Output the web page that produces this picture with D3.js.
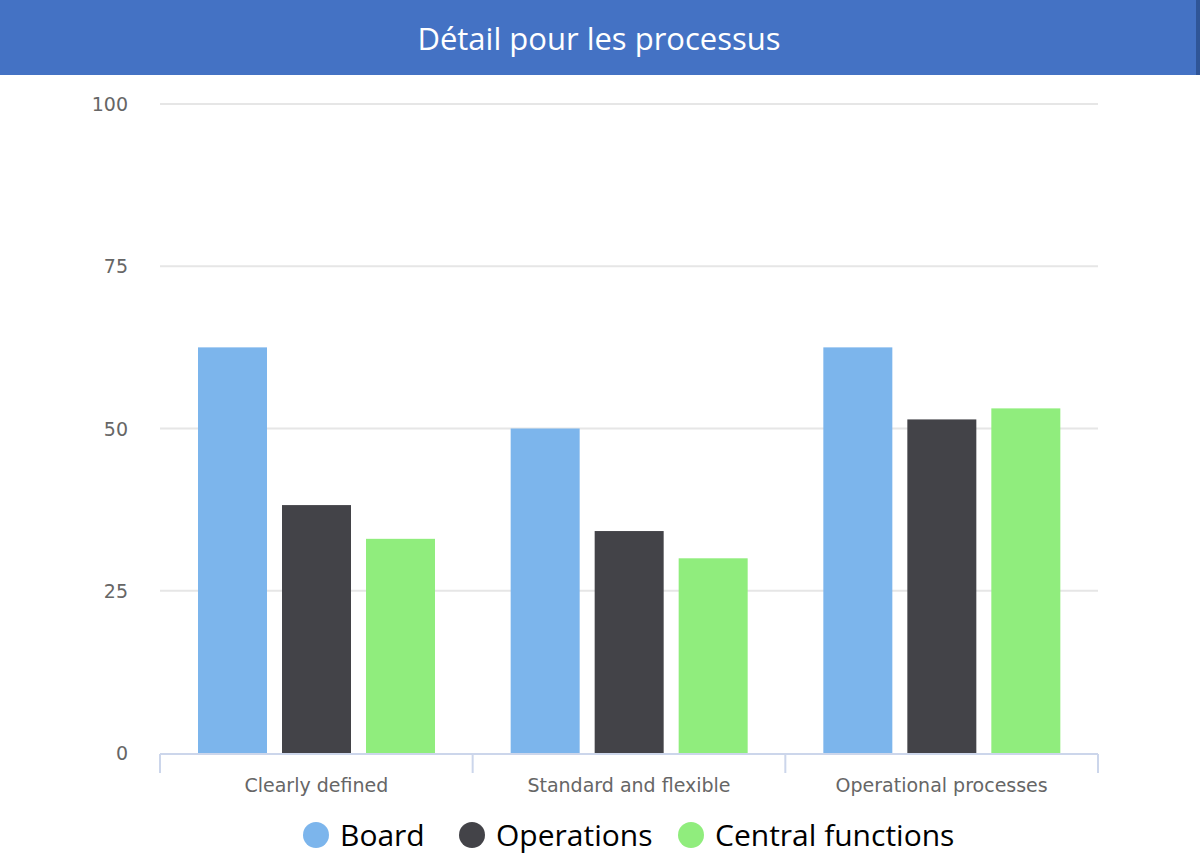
<!DOCTYPE html><html><head><meta charset="utf-8">
<script src="https://cdn.jsdelivr.net/npm/d3@7"></script>
<style>body{margin:0;background:#fff}</style></head><body>
<svg id="c" width="1200" height="854"></svg>
<script>
const categories=["Clearly defined","Standard and flexible","Operational processes"];
const seriesNames=["Board","Operations","Central functions"];
const board=[62.5,50,62.5];
const operations=[38.2,34.2,51.4];
const central=[33,30,53.1];
const colors=["#7cb5ec","#434348","#90ed7d"];
const yTicks=[0,25,50,75,100];
const series=[board,operations,central];
const svg=d3.select("#c");
svg.append("rect").attr("x",0).attr("y",0).attr("width",1198).attr("height",75).attr("fill","#4472c4");
svg.append("rect").attr("x",1196).attr("y",0).attr("width",4).attr("height",75).attr("fill","#2f5597");
svg.append("text").attr("x",599).attr("y",50).attr("text-anchor","middle").attr("fill","#fff")
 .attr("font-family","Open Sans, sans-serif").attr("font-size",31).text("Détail pour les processus");
const x=d3.scaleBand().domain(categories).range([160,1098]);
const inner=d3.scaleBand().domain(seriesNames).range([38,38+84*3-15]).paddingInner(15/84);
const y=d3.scaleLinear().domain([0,100]).range([753,104]);
const g=svg.append("g");
yTicks.forEach(t=>{
 if(t>0) g.append("line").attr("x1",160).attr("x2",1098).attr("y1",y(t)).attr("y2",y(t)).attr("stroke","#e6e6e6").attr("stroke-width",2);
 g.append("text").attr("x",128).attr("y",y(t)+7).attr("text-anchor","end").attr("fill","#666")
  .attr("font-family","DejaVu Sans, sans-serif").attr("font-size",19).text(t);
});
categories.forEach((c,i)=>{
 series.forEach((s,j)=>{
  g.append("rect").attr("x",x(c)+inner(seriesNames[j])).attr("width",inner.bandwidth())
   .attr("y",y(s[i])).attr("height",y(0)-y(s[i])).attr("fill",colors[j]);
 });
 g.append("text").attr("x",x(c)+x.bandwidth()/2).attr("y",792).attr("text-anchor","middle").attr("fill","#666")
  .attr("font-family","DejaVu Sans, sans-serif").attr("font-size",19).text(c);
});
g.append("line").attr("x1",160).attr("x2",1098).attr("y1",754).attr("y2",754).attr("stroke","#ccd6eb").attr("stroke-width",2);
[0,1,2,3].forEach(i=>{const xv=160+i*x.step();g.append("line").attr("x1",xv).attr("x2",xv).attr("y1",754).attr("y2",773).attr("stroke","#ccd6eb").attr("stroke-width",2);});
const lx=[316,472,691];
seriesNames.forEach((n,j)=>{
 svg.append("circle").attr("cx",lx[j]).attr("cy",835).attr("r",13).attr("fill",colors[j]);
 svg.append("text").attr("x",lx[j]+24).attr("y",846).attr("fill","#000")
  .attr("font-family","Open Sans, sans-serif").attr("font-size",30).text(n);
});
</script></body></html>
